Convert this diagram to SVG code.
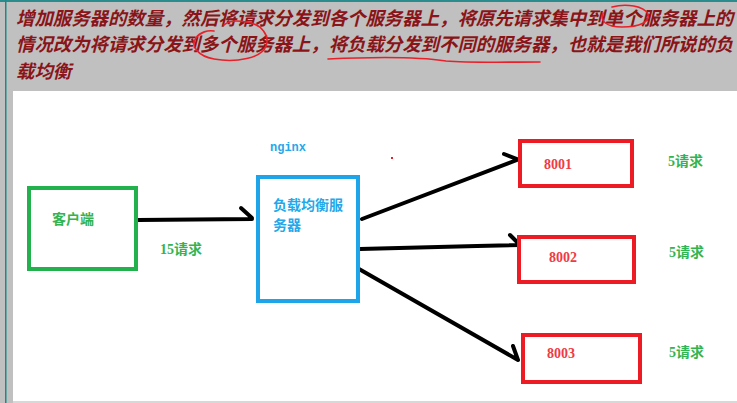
<svg xmlns="http://www.w3.org/2000/svg" width="737" height="403" viewBox="0 0 737 403">
  <style>
    .head { font-family: "Noto Sans CJK SC", "Noto Sans", sans-serif; font-size: 18.4px; font-weight: 700; font-style: italic; fill: #8a1418; }
    .mark { fill: none; stroke: #e8202a; stroke-width: 1.6; stroke-linecap: round; }
    .box { fill: #ffffff; stroke-width: 4; }
    .green { stroke: #22b14c; }
    .blue { stroke: #1ea5e9; }
    .red { stroke: #ed1c24; }
    .lbl { font-family: "Noto Sans CJK SC", "Noto Sans", sans-serif; font-size: 14px; font-weight: 700; }
    .num { font-family: "Liberation Serif", "Noto Sans CJK SC", serif; font-size: 14px; font-weight: 700; }
    .tg { fill: #34b450; }
    .tb { fill: #24a8ea; }
    .tr { fill: #f03a44; }
    .wire { fill: none; stroke: #000000; stroke-width: 4; stroke-linecap: round; stroke-linejoin: round; }
  </style>

  <!-- window background and frame -->
  <rect x="0" y="0" width="737" height="403" fill="#c0c0c0"/>
  <rect x="0" y="0" width="737" height="2" fill="#2a8c8c"/>
  <rect x="5" y="0" width="1.5" height="403" fill="#1a8a8a"/>
  <rect x="13" y="91" width="724" height="310" fill="#ffffff"/>
  <rect x="13" y="401" width="724" height="2" fill="#d8d8d8"/>

  <!-- description text -->
  <g id="description">
    <text class="head" x="16" y="25">增加服务器的数量，然后将请求分发到各个服务器上，将原先请求集中到单个服务器上的</text>
    <text class="head" x="16" y="51">情况改为将请求分发到多个服务器上，将负载分发到不同的服务器，也就是我们所说的负</text>
    <text class="head" x="16" y="78">载均衡</text>
  </g>

  <!-- hand-drawn highlights -->
  <g id="highlights">
    <path class="mark" d="M224,25 C228,21 236,20 246,22"/>
    <path class="mark" d="M246,22 C262,24 270,36 266,46 C262,58 236,63 214,59 C198,56 190,46 196,38 C200,32 208,30 214,31"/>
    <path class="mark" d="M612,7 C626,3 644,6 648,14 C650,22 640,27 622,27 C606,27 600,21 603,13"/>
    <path class="mark" d="M328,59 C370,57 420,57 446,61 C470,63 510,62 540,62"/>
    <rect x="391" y="157" width="2" height="2" fill="#e8202a"/>
  </g>

  <!-- connectors -->
  <g id="connectors">
    <path class="wire" d="M138,220 L252,219 M241,208 L252,218"/>
    <path class="wire" d="M362,219 L517,160 M504,154 L517,159"/>
    <path class="wire" d="M360,249 L477,246 L520,245 M510,235 L520,245"/>
    <path class="wire" d="M359,269 L518,360 M513,346 L518,360"/>
  </g>

  <!-- client -->
  <g id="client">
    <rect class="box green" x="29" y="188" width="107" height="81"/>
    <text class="lbl tg" x="52" y="224">客户端</text>
  </g>
  <text class="lbl tg" x="160" y="254"><tspan class="num">15</tspan>请求</text>

  <!-- load balancer -->
  <g id="nginx">
    <text x="270" y="151" font-family="Liberation Mono, monospace" font-size="12px" font-weight="700" class="tb">nginx</text>
    <rect class="box blue" x="258" y="177" width="100" height="124"/>
    <text class="lbl tb" x="273" y="210">负载均衡服</text>
    <text class="lbl tb" x="273" y="230">务器</text>
  </g>

  <!-- backend servers -->
  <g id="server-8001">
    <rect class="box red" x="520" y="141" width="112" height="45"/>
    <text class="num tr" x="544" y="169">8001</text>
    <text class="lbl tg" x="668" y="166"><tspan class="num">5</tspan>请求</text>
  </g>
  <g id="server-8002">
    <rect class="box red" x="519" y="237" width="115" height="45"/>
    <text class="num tr" x="549" y="262">8002</text>
    <text class="lbl tg" x="669" y="257"><tspan class="num">5</tspan>请求</text>
  </g>
  <g id="server-8003">
    <rect class="box red" x="523" y="335" width="117" height="47"/>
    <text class="num tr" x="547" y="358">8003</text>
    <text class="lbl tg" x="669" y="357"><tspan class="num">5</tspan>请求</text>
  </g>
</svg>
